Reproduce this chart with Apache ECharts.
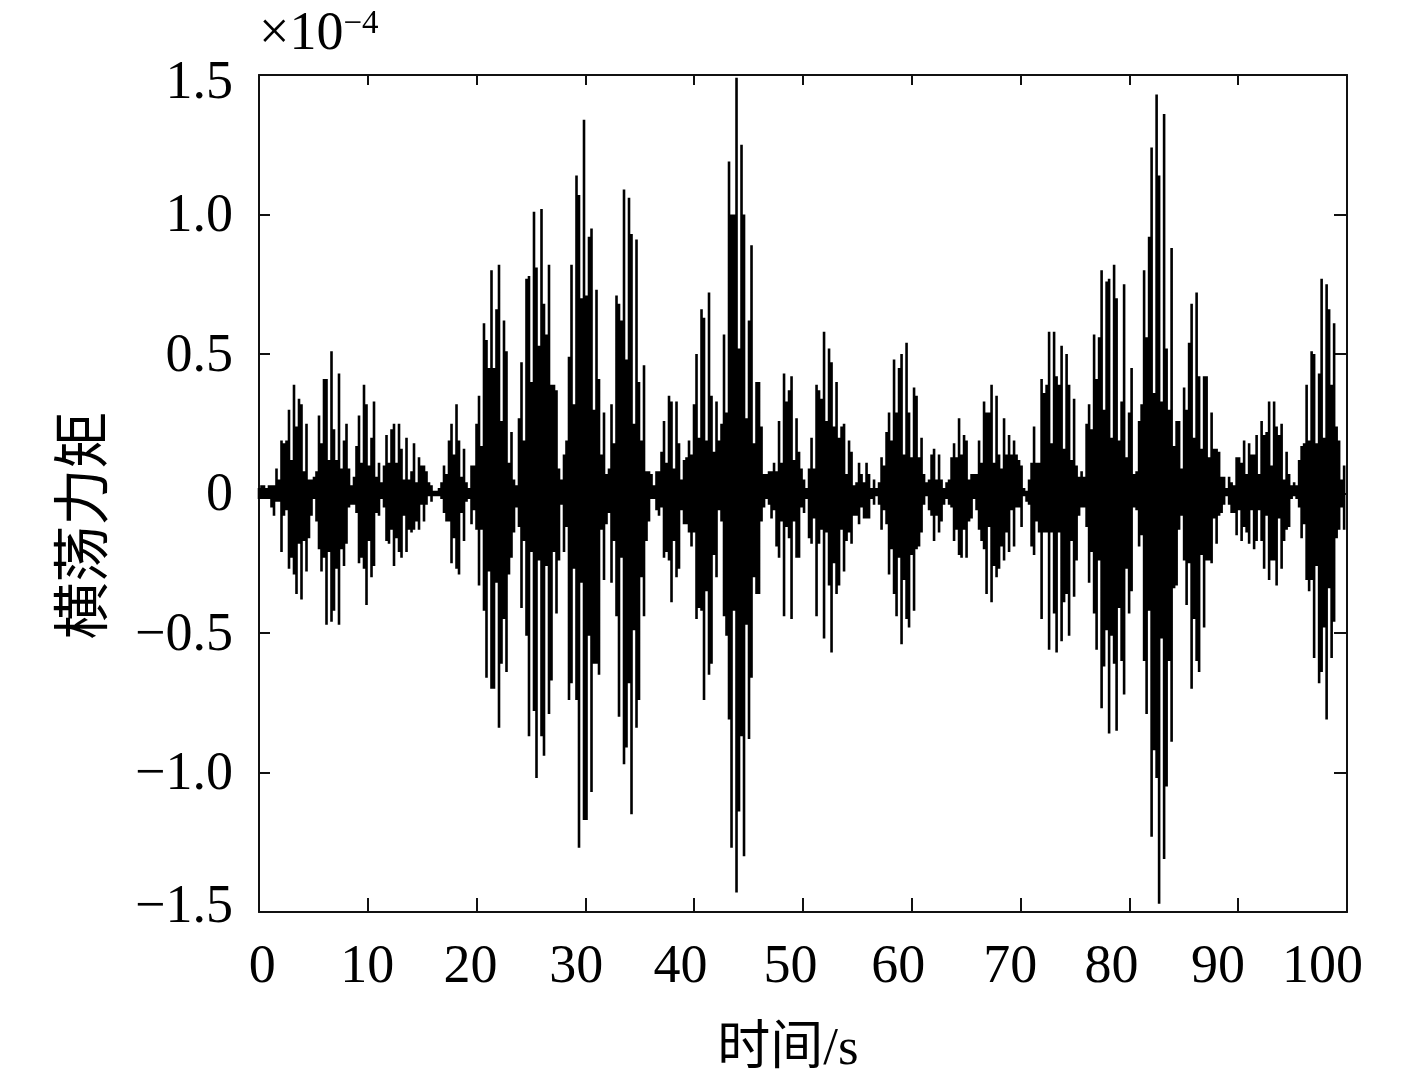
<!DOCTYPE html>
<html><head><meta charset="utf-8">
<style>html,body{margin:0;padding:0;background:#fff}#c{width:1417px;height:1077px}</style>
<script src="https://cdn.jsdelivr.net/npm/echarts@6/dist/echarts.min.js"></script>
</head><body><div id="c"></div>
<script>
// Envelope of the signal, one column every sampleStep seconds.
// Values are in hundredths of the axis unit (×10^-4).
const sampleStep = 0.2298;
const startA = 0, startB = 20.68, startC = 45.96, startD = 71.7;
const upperA = [2,3,3,2,3,3,3,9,5,19,18,19,30,12,39,24,34,32,8,25,5,5,6,8,28,18,41,41,12,51,23,12,43,9,19,25,9,3,6,17,28,11,39,32,10,20,33,6,11,4,10,21,11,23,25,11,25,16,5,20,5,8,18,4,13,10,10,8,4,3,1,1,2,4,10,7,19,25,14,32,19,6,16,4,2,10,10,25,35,17];
const lowerA = [2,2,2,2,2,5,8,3,3,21,8,6,27,23,29,36,18,38,17,28,16,8,2,10,20,28,23,47,21,46,42,27,47,20,26,18,5,4,4,7,25,23,27,40,17,30,26,7,8,2,5,17,18,13,26,16,21,23,8,21,13,14,13,10,13,4,10,4,1,3,1,1,1,2,7,10,10,25,16,27,29,7,17,3,2,11,6,13,33,13];
const upperB = [61,55,45,80,45,66,82,26,62,51,11,22,5,3,27,47,19,77,78,40,101,81,53,102,68,57,82,39,39,37,9,5,14,19,49,82,32,114,107,70,134,71,92,95,30,73,41,14,29,7,9,32,18,71,68,62,109,48,106,93,25,91,40,19,46,8,8,7,3,8,8,15,26,11,35,33,9,33,18,5,12,13,19,14,32,50,20,66,63,19,72,35,15,33,19,25,57,29,119,100,100,149,52,125,100,27,62,89,18,40];
const lowerB = [42,66,28,70,70,32,84,61,45,64,29,23,14,5,12,41,17,51,87,21,78,102,24,87,94,26,79,67,21,43,24,4,21,12,74,68,27,74,127,32,117,117,51,107,61,61,65,13,31,11,7,32,17,44,80,23,97,91,68,115,49,84,74,30,44,17,10,2,2,6,8,5,23,21,24,39,17,30,27,6,11,11,14,19,14,45,41,42,74,35,65,61,22,30,6,10,44,51,81,127,42,143,114,87,130,47,88,66,30,36];
const upperC = [40,24,7,7,8,8,11,8,26,11,43,33,37,42,12,27,15,9,5,2,9,20,9,39,37,34,58,26,52,47,24,40,20,24,25,7,19,15,3,4,11,7,4,11,7,2,5,2,4,13,10,22,29,19,48,29,45,50,14,54,29,13,38,35,13,20,7,4,5,14,16,5,14,5,2,4,5,13,18,13,27,14,21,19,5,7,7,7,19,11,33,29,29,39,11,35,14,9,27,14,21,14,19,14,12,10,2,1,5,11,24,11];
const lowerC = [36,10,5,2,4,9,6,19,23,10,44,12,16,45,10,23,23,5,7,2,16,18,9,44,18,13,52,14,33,57,25,36,33,13,28,17,14,18,8,8,11,5,9,9,9,2,4,1,4,13,6,11,29,20,36,44,23,54,31,45,48,22,42,20,19,14,4,1,6,8,17,8,14,10,4,2,4,5,17,13,22,23,13,23,10,9,2,6,13,17,20,36,12,39,26,30,27,19,24,14,21,6,19,5,5,12,1,3,4,19,22,10];
const upperD = [11,41,36,39,58,18,58,42,39,53,16,50,39,12,34,10,6,8,6,25,32,23,57,41,56,80,30,76,77,20,82,70,19,33,75,13,29,45,7,8,26,32,80,56,92,124,36,143,114,33,136,52,30,88,17,26,26,9,38,30,54,68,20,72,42,16,42,42,13,29,16,16,15,6,6,2,6,4,3,13,13,11,19,7,18,14,14,21,7,26,21,22,33,10,33,24,21,25,5,15,7,3,4,3,12,17,18,39,19,51,50,18,43,77,20,75,66,39,61,24,19,5,10];
const lowerD = [14,45,14,14,56,14,43,57,14,53,39,36,51,17,37,24,8,5,5,12,32,21,43,56,24,77,62,49,86,51,61,85,41,60,72,27,43,35,5,6,19,15,60,79,42,123,92,102,147,52,131,105,60,89,34,33,13,8,24,40,25,70,45,60,64,22,48,24,24,25,9,18,8,7,4,1,4,7,7,15,6,17,12,14,18,6,20,17,6,17,27,8,31,24,24,33,9,27,17,13,12,2,1,2,5,16,11,31,35,31,59,26,68,64,48,81,34,59,46,16,13,5,13];
const xTicks = [10,20,30,40,50,60,70,80,90];
const xLabels = ['0','10','20','30','40','50','60','70','80','90','100'];
const xLabelSpots = [0.3,9.95,19.45,29.15,38.75,48.85,58.75,69.05,78.35,88.15,97.75];
const yTicks = [-1,-0.5,0,0.5,1];
const yLabels = ['\u22121.5','\u22121.0','\u22120.5','0','0.5','1.0','1.5'];
const yLabelSpots = [-1.484,-1.009,-0.509,-0.009,0.491,0.991,1.469];

const trace = [];
function addBlock(start, upper, lower) {
  const n = Math.min(upper.length, lower.length);
  for (let k = 0; k < n; k++) {
    const t = start + k * sampleStep;
    trace.push([t, upper[k] / 100], [t, -lower[k] / 100], [t, null]);
  }
}
addBlock(startA, upperA, lowerA);
addBlock(startB, upperB, lowerB);
addBlock(startC, upperC, lowerC);
addBlock(startD, upperD, lowerD);

const serif = '"Liberation Serif","Noto Sans CJK SC",serif';
const lineStyle = {color:'#111', width:2};
const chart = echarts.init(document.getElementById('c'), null, {renderer:'canvas'});
chart.setOption({
  animation:false,
  backgroundColor:'#fff',
  title:{
    text:'{a|\u00d710}{b|\u22124}', left:254, top:3,
    textStyle:{fontWeight:'normal',rich:{
      a:{fontFamily:serif,fontWeight:'normal',fontSize:54,color:'#000',lineHeight:54},
      b:{fontFamily:serif,fontWeight:'normal',fontSize:33,color:'#000',verticalAlign:'top',lineHeight:54,padding:[0,0,24,0]}
    }}
  },
  grid:{left:259,top:75,width:1088,height:837,containLabel:false,outerBoundsMode:'none'},
  xAxis:[
    {type:'value',position:'bottom',min:0,max:100,
     name:'时间/s',nameLocation:'middle',nameGap:112,
     nameTextStyle:{fontFamily:serif,fontSize:53,color:'#000',padding:[0,30,0,0]},
     axisLine:{show:true,onZero:false,lineStyle},
     axisTick:{show:true,inside:true,length:14,lineStyle,customValues:xTicks},
     axisLabel:{fontFamily:serif,fontSize:54,color:'#000',margin:29,customValues:xLabelSpots,
       formatter:(v)=>xLabels[xLabelSpots.indexOf(v)],hideOverlap:false},
     splitLine:{show:false}},
    {type:'value',position:'top',min:0,max:100,
     axisLine:{show:true,onZero:false,lineStyle},
     axisTick:{show:true,inside:true,length:10,lineStyle,customValues:xTicks},
     axisLabel:{show:false},splitLine:{show:false}}
  ],
  yAxis:[
    {type:'value',position:'left',min:-1.5,max:1.5,
     name:'横荡力矩',nameLocation:'middle',nameGap:143,nameRotate:90,
     nameTextStyle:{fontFamily:serif,fontSize:57,color:'#000',padding:[0,64,0,0]},
     axisLine:{show:true,onZero:false,lineStyle},
     axisTick:{show:true,inside:true,length:11,lineStyle,customValues:yTicks},
     axisLabel:{fontFamily:serif,fontSize:54,color:'#000',margin:26,customValues:yLabelSpots,
       formatter:(v)=>yLabels[yLabelSpots.indexOf(v)],hideOverlap:false},
     splitLine:{show:false}},
    {type:'value',position:'right',min:-1.5,max:1.5,
     axisLine:{show:true,onZero:false,lineStyle},
     axisTick:{show:true,inside:true,length:13,lineStyle,customValues:yTicks},
     axisLabel:{show:false},splitLine:{show:false}}
  ],
  series:[{type:'line',xAxisIndex:0,yAxisIndex:0,data:trace,showSymbol:false,connectNulls:false,
    lineStyle:{color:'#000',width:2.6,cap:'butt',join:'miter'},sampling:null,silent:true,clip:true}]
});
</script></body></html>
